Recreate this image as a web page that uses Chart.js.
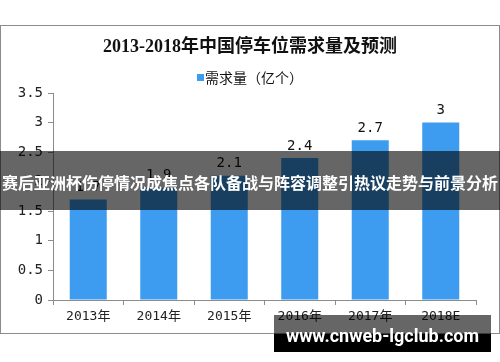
<!DOCTYPE html>
<html>
<head>
<meta charset="utf-8">
<script src="https://cdn.jsdelivr.net/npm/chart.js@4.4.1/dist/chart.umd.min.js"></script>
<style>
  html, body { margin: 0; padding: 0; background: #fff; }
  #wrap { position: relative; width: 500px; height: 362px; overflow: hidden; }
  #frame { position: absolute; left: 0; top: 25px; width: 500px; height: 309px; box-sizing: border-box; border: 1px solid #8c8c8c; }
  canvas { position: absolute; left: 0; top: 0; }
  #banner { position: absolute; left: 0; top: 151px; width: 500px; height: 59px; background: rgba(0,0,0,0.6);
    color: #fff; font: bold 16px "Noto Sans CJK SC", sans-serif; line-height: 62px; text-align: center; white-space: nowrap; }
  #mark1 { position: absolute; left: 274px; top: 315px; width: 217px; height: 19px; background: rgba(0,0,0,0.6); }
  #mark2 { position: absolute; left: 274px; top: 334px; width: 217px; height: 18px; background: #000; }
  #markText { position: absolute; left: 274px; top: 323px; width: 217px; text-align: center; color: #fff;
    font: bold 18px Roboto, sans-serif; line-height: 26px; white-space: nowrap; }
</style>
</head>
<body>
<div id="wrap">
  <div id="frame"></div>
  <canvas id="chart" width="500" height="362"></canvas>
  <div id="banner">赛后亚洲杯伤停情况成焦点各队备战与阵容调整引热议走势与前景分析</div>
  <div id="mark1"></div>
  <div id="mark2"></div>
  <div id="markText">www.cnweb-lgclub.com</div>
</div>
<script>
const chartTitle = "2013-2018年中国停车位需求量及预测";
const seriesName = "需求量（亿个）";
const categories = ["2013年", "2014年", "2015年", "2016年", "2017年", "2018E"];
const demand = [1.7, 1.9, 2.1, 2.4, 2.7, 3];
const yMin = 0;
const yMax = 3.5;
const yStep = 0.5;

const barColor = "#3d9cf0";
const axisColor = "#8c8c8c";

// title, legend and value labels
const decorations = {
  id: "decorations",
  afterDatasetsDraw(chart) {
    const ctx = chart.ctx;
    ctx.save();
    ctx.fillStyle = "#111";
    ctx.textAlign = "center";
    ctx.textBaseline = "middle";
    ctx.font = 'bold 18px "Liberation Serif", "Noto Sans CJK SC", serif';
    ctx.fillText(chartTitle, 250, 47);

    ctx.fillStyle = barColor;
    ctx.fillRect(197, 74, 7, 7);
    ctx.fillStyle = "#111";
    ctx.textAlign = "left";
    ctx.font = '14px "Noto Sans CJK SC", sans-serif';
    ctx.fillText(chart.data.datasets[0].label, 205, 78);

    ctx.textAlign = "center";
    ctx.font = '14px "DejaVu Sans Mono", monospace';
    const meta = chart.getDatasetMeta(0);
    meta.data.forEach((bar, i) => {
      ctx.fillText(String(chart.data.datasets[0].data[i]), bar.x, bar.y - 12);
    });
    ctx.restore();
  }
};

new Chart(document.getElementById("chart"), {
  type: "bar",
  data: {
    labels: categories,
    datasets: [{
      label: seriesName,
      data: demand,
      backgroundColor: barColor,
      barPercentage: 0.525,
      categoryPercentage: 1
    }]
  },
  options: {
    responsive: false,
    animation: false,
    layout: { padding: { top: 93, right: 24, bottom: 32, left: 0 } },
    plugins: {
      legend: { display: false },
      title: { display: false },
      tooltip: { enabled: false }
    },
    scales: {
      x: {
        offset: true,
        grid: { offset: true, drawOnChartArea: false, tickLength: 5, tickColor: axisColor },
        border: { color: axisColor },
        ticks: { color: "#222", padding: 4, font: { family: '"DejaVu Sans Mono", "Noto Sans CJK SC"', size: 13 } },
        afterFit(scale) { scale.height = 30; }
      },
      y: {
        min: yMin,
        max: yMax,
        grid: { drawOnChartArea: false, tickLength: 5, tickColor: axisColor },
        border: { color: axisColor },
        ticks: {
          stepSize: yStep,
          color: "#222",
          padding: 5,
          font: { family: '"DejaVu Sans Mono", monospace', size: 14 },
          callback: (v) => String(v)
        },
        afterFit(scale) { scale.width = 53; }
      }
    }
  },
  plugins: [decorations]
});
</script>
</body>
</html>
